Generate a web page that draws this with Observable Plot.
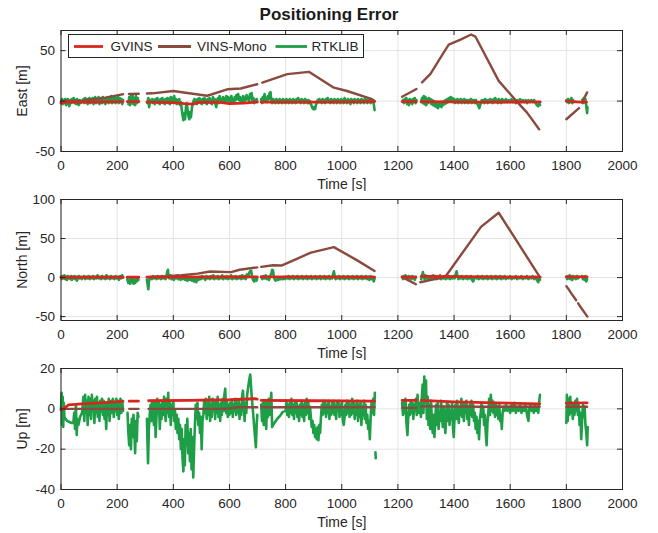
<!DOCTYPE html>
<html>
<head>
<meta charset="utf-8">
<script src="https://cdn.jsdelivr.net/npm/d3@7"></script>
<script src="https://cdn.jsdelivr.net/npm/@observablehq/plot@0.6"></script>
<style>
  html, body { margin: 0; padding: 0; background: #fff; }
  body { width: 658px; height: 533px; position: relative; overflow: hidden; font-family: "Liberation Sans", Arial, sans-serif; }
  #title { position: absolute; left: 0; top: 4px; width: 658px; text-align: center; font-weight: bold; font-size: 17px; line-height: 22px; color: #1a1a1a; }
  .panel { position: absolute; left: 0; }
  #legend { position: absolute; left: 68px; top: 34px; width: 294px; height: 22px; border: 1px solid #262626; background: #fff; }
</style>
</head>
<body>
<div id="title">Positioning Error</div>
<div id="p1" class="panel" style="top:22px"></div>
<div id="p2" class="panel" style="top:191px"></div>
<div id="p3" class="panel" style="top:360px"></div>
<div id="legend"></div>
<script>
// ---------- categories / ticks ----------
const seriesNames = ["GVINS", "VINS-Mono", "RTKLIB"];
const seriesColors = ["#d8261f", "#8b4a3e", "#1e9e47"];
const xTicks = [0, 200, 400, 600, 800, 1000, 1200, 1400, 1600, 1800, 2000];
const eastTicks = [-50, 0, 50];
const northTicks = [-50, 0, 50, 100];
const upTicks = [-40, -20, 0, 20];
const eastDomain = [-50, 70];
const northDomain = [-55, 100];
const upDomain = [-40, 20];

// ---------- East [m] ----------  pairs [time, value]; null = data gap
const eastGVINS = [[0,-2],[20,-1],[100,-1],[221,-0.5],null,[236,-0.5],[277,-0.5],null,[306,-1],[400,-1.5],[440,-2.5],[470,-3],[490,-1.2],[560,-1],[600,-2.5],[650,-2],[699,-1],null,
  [713,-1],[900,-1],[1117,-0.5],null,[1215,-0.5],[1266,-0.5],null,[1283,-0.5],[1500,-1],[1707,-0.8],null,[1800,0],[1849,-1],null,[1856,-1],[1872,-1]];
const eastVINS = [[0,0],[80,0.5],[150,3],[218,6.7],[221,6.8],null,[242,7],[277,7.3],null,[306,7.5],[325,7.7],[400,10],[450,8],[521,5.3],[592,11.7],[640,12.5],[699,16.7],null,
  [717,18.3],[806,26.7],[883,29],[972,13.3],[1019,10],[1102,2.4],[1117,0],null,[1215,4.3],[1266,12],null,
  [1286,18.6],[1316,27],[1364,48.6],[1381,56],[1423,61],[1461,66],[1476,64],[1559,20],[1619,1],[1660,-11.4],[1703,-28],null,
  [1800,-18],[1845,-7],null,[1856,-1.4],[1874,8.6]];
const eastRTKLIB = [[0,-1],[3,2],[6,-3],[9,1],[12,-2],[15,2],[18,-4],[21,0],[24,2],[27,-3],[30,-5],[33,1],[36,-2],[39,2],[42,-1],[45,3],[48,-2],[51,1],[54,-3],[57,2],[60,-1],[63,-4],[66,1],[70,-2],[75,0],
  [80,2],[83,-2],[86,3],[89,-1],[92,2],[95,-3],[98,1],[101,3],[104,-2],[107,2],[110,-1],[113,3],[116,-3],[119,1],[122,4],[125,-2],[128,2],[131,-1],[134,4],[137,-3],[140,1],[143,3],[146,-2],[149,4],
  [152,-1],[155,2],[158,-3],[161,3],[164,-1],[167,4],[170,-2],[173,2],[176,-1],[179,5],[182,-2],[185,3],[188,-1],[191,4],[194,-2],[197,3],[200,-1],[203,4],[206,-2],[209,3],[212,-1],[215,2],[218,-3],[221,1],null,
  [240,-3],[243,4],[246,-4],[249,5],[252,-2],[255,6],[258,-3],[261,3],[264,-4],[267,5],[270,-2],[273,3],[276,-1],null,
  [308,-2],[311,3],[314,-6],[317,1],[320,-1],[325,2],[328,-2],[331,1],[334,-3],[337,2],[340,-1],[343,3],[346,-2],[349,1],[352,-3],[355,2],[358,-1],[361,3],[364,-2],[367,1],[370,-3],[373,2],[376,-1],
  [379,3],[382,-2],[385,2],[388,-3],[391,4],[394,-1],[397,3],[400,-2],[403,5],[406,-1],[409,2],[412,-3],[415,1],[418,-2],[421,2],[424,-4],[427,-1],[430,-8],[433,-14],[436,-19],[439,-12],[442,-18],
  [445,-6],[448,-2],[451,-9],[454,-15],[457,-18],[460,-11],[463,-16],[466,-7],[469,-3],[472,0],[475,2],[478,-2],[481,1],[484,-3],[487,2],[490,-1],[493,3],[496,-2],[499,1],[502,-3],[505,2],[508,-1],
  [511,3],[514,-2],[517,1],[520,-3],[523,2],[526,-1],[529,3],[532,-2],[535,1],[538,-3],[541,4],[544,-1],[547,2],[550,-3],[553,-6],[556,1],[559,3],[562,-2],[565,5],[568,0],[571,2],[574,-1],[577,4],
  [580,0],[583,3],[586,-1],[589,5],[592,1],[595,4],[598,-2],[601,3],[604,-1],[607,5],[610,0],[613,2],[616,-2],[619,4],[622,1],[625,6],[628,2],[631,7],[634,1],[637,4],[640,-1],[643,3],[646,0],[649,5],
  [652,-1],[655,3],[658,1],[661,6],[664,2],[667,4],[670,0],[673,7],[676,3],[679,8],[682,0],[685,3],[688,-2],[691,1],[694,0],[697,2],[699,0],null,
  [713,2],[716,-2],[719,4],[722,-1],[725,7],[728,0],[731,3],[734,-1],[737,5],[740,2],[743,8],[746,9],[749,1],[752,-2],[755,2],[758,-1],[761,1],[764,-2],[767,2],[770,-1],[773,1],[776,-2],[779,2],
  [782,-1],[785,1],[788,-2],[791,2],[794,-1],[797,1],[800,-2],[803,2],[806,-1],[809,1],[812,-2],[815,2],[818,-1],[821,1],[824,-2],[827,2],[830,-1],[833,1],[836,-2],[839,2],[842,-1],[845,3],[848,-1],
  [851,1],[854,-2],[857,2],[860,-1],[863,1],[866,-2],[869,2],[872,-1],[875,1],[878,-2],[881,1],[884,-2],[887,0],[890,-3],[893,-5],[896,-7],[899,-8],[902,-6],[905,-8],[908,-4],[911,-2],[914,1],
  [917,-1],[920,2],[923,-1],[926,1],[929,-2],[932,2],[935,-1],[938,1],[941,-2],[944,2],[947,-1],[950,3],[953,-1],[956,1],[959,-2],[962,2],[965,-1],[968,1],[971,-2],[974,2],[977,-1],[980,1],[983,-2],
  [986,2],[989,-1],[992,1],[995,-2],[998,2],[1001,-1],[1004,1],[1007,-2],[1010,3],[1013,-1],[1016,1],[1019,-2],[1022,2],[1025,-1],[1028,1],[1031,-3],[1034,2],[1037,-1],[1040,1],[1043,-2],[1046,2],
  [1049,-1],[1052,1],[1055,-2],[1058,2],[1061,-1],[1064,1],[1067,-2],[1070,2],[1073,-1],[1076,1],[1079,-2],[1082,2],[1085,-1],[1088,1],[1091,-2],[1094,2],[1097,-1],[1100,1],[1103,-2],[1106,2],
  [1109,-1],[1112,1],[1115,-5],[1117,-9],null,
  [1218,1],[1221,-2],[1224,2],[1227,-1],[1230,3],[1233,-3],[1236,1],[1239,-4],[1242,2],[1245,-2],[1248,1],[1251,-3],[1254,2],[1257,-1],[1260,3],[1263,-2],[1266,1],null,
  [1283,-1],[1286,3],[1289,-2],[1292,5],[1295,-3],[1298,4],[1301,-4],[1304,2],[1307,-2],[1310,3],[1313,-1],[1316,2],[1319,-3],[1322,1],[1325,-4],[1328,0],[1331,-5],[1334,-1],[1337,-6],[1340,-2],
  [1343,-7],[1346,-3],[1349,-5],[1352,-1],[1355,-6],[1358,-2],[1361,-4],[1364,0],[1367,-3],[1370,1],[1373,-2],[1376,2],[1379,-1],[1382,3],[1385,0],[1388,4],[1391,1],[1394,3],[1397,-1],[1400,2],
  [1403,-2],[1406,1],[1409,-1],[1412,2],[1415,-2],[1418,1],[1421,-1],[1424,2],[1427,-2],[1430,1],[1433,-1],[1436,2],[1439,-2],[1442,1],[1445,-1],[1448,1],[1451,-2],[1454,1],[1457,-1],[1460,2],
  [1463,-2],[1466,1],[1469,-1],[1472,1],[1475,-2],[1478,1],[1481,-2],[1484,-3],[1487,-5],[1490,-7],[1493,-4],[1496,-1],[1499,1],[1502,-1],[1505,1],[1508,-2],[1511,2],[1514,-1],[1517,1],[1520,-2],
  [1523,1],[1526,-1],[1529,2],[1532,-1],[1535,1],[1538,-2],[1541,2],[1544,-1],[1547,3],[1550,-1],[1553,1],[1556,-2],[1559,2],[1562,-1],[1565,1],[1568,-2],[1571,2],[1574,-1],[1577,1],[1580,-1],
  [1585,2],[1590,-1],[1595,1],[1600,-1],[1605,2],[1610,-1],[1615,1],[1620,-2],[1625,1],[1630,-1],[1635,2],[1640,-1],[1645,1],[1650,-1],[1655,1],[1660,-2],[1665,1],[1670,-1],[1675,1],[1680,-1],
  [1685,1],[1690,-2],[1695,-4],[1700,-5],[1703,-2],[1706,-4],null,
  [1800,1],[1803,-1],[1806,2],[1809,-2],[1812,1],[1815,-1],[1818,3],[1821,-2],[1824,1],[1827,-1],null,
  [1856,1],[1859,-2],[1862,3],[1865,-1],[1868,2],[1871,-5],[1873,-10],[1874,-12],[1875,-6]];

// ---------- North [m] ----------
const northGVINS = [[0,0.5],[221,0.5],null,[236,0.5],[277,0.5],null,[306,0.5],[699,0.8],null,[713,0.8],[1117,0.5],null,[1215,0.5],[1264,0.5],null,
  [1283,1.5],[1400,1.2],[1500,0.8],[1707,0.5],null,[1800,1],[1849,1],null,[1856,1],[1874,1]];
const northVINS = [[0,0],[100,0.5],[221,0.5],null,[236,0.5],[277,0.5],null,[306,0.5],[381,1.7],[430,3],[486,5],[531,7.7],[606,7],[636,10],[699,13],null,
  [713,13.7],[755,15.8],[785,15.4],[840,24],[890,32],[972,39],[1055,22],[1117,8.5],null,[1215,1],[1240,-4],[1264,-8.5],null,
  [1280,-6],[1320,-3],[1369,1],[1496,65],[1559,83],[1705,1],null,[1800,-11],[1810,-16],[1825,-24],[1835,-29],null,[1842,-33],[1855,-40],[1875,-50]];
const northRTKLIB = [[0,1],[3,-2],[6,2],[9,-1],[12,3],[15,-2],[18,1],[21,-3],[24,2],[27,-1],[30,1],[33,-2],[36,2],[39,-3],[42,1],[45,-1],[48,2],[51,-2],[54,1],[57,-4],[60,0],[63,2],[66,-1],[70,1],
  [74,-2],[78,0],[82,2],[86,-2],[90,1],[94,-1],[98,2],[102,-2],[106,1],[110,-1],[114,2],[118,-2],[122,1],[126,-1],[130,3],[134,-1],[138,1],[142,-2],[146,2],[150,-1],[154,1],[158,-2],[162,3],[166,-1],
  [170,1],[174,-2],[178,2],[182,-1],[186,1],[190,-2],[194,2],[198,-1],[202,1],[206,-3],[210,2],[214,-1],[218,3],[221,0],null,
  [236,-2],[240,-7],[243,-3],[246,-8],[249,-2],[252,-6],[255,-1],[258,-8],[261,-3],[264,-7],[267,-2],[270,-5],[273,-1],[276,-3],null,
  [306,-3],[309,-10],[311,-15],[313,-6],[316,-1],[320,1],[324,-2],[328,2],[332,-1],[336,1],[340,-2],[344,2],[348,-1],[352,1],[356,-2],[360,2],[364,-1],[368,1],[372,-2],[376,3],[379,8],[381,10],
  [383,2],[386,-1],[390,3],[394,-2],[398,1],[402,-3],[406,2],[410,-1],[414,3],[418,-2],[422,1],[426,-3],[430,2],[434,-2],[438,1],[442,-3],[446,0],[450,-4],[454,-1],[458,-3],[462,1],[466,-4],
  [470,-1],[474,-5],[478,-2],[482,-6],[486,-1],[490,-3],[494,1],[498,-2],[502,2],[506,-1],[510,1],[514,-3],[518,2],[522,-1],[526,1],[530,-2],[534,2],[538,-1],[542,3],[546,-2],[550,1],[554,-1],
  [558,2],[562,-2],[566,1],[570,-1],[574,3],[578,-2],[582,1],[586,-1],[590,2],[594,-2],[598,1],[602,-1],[606,3],[610,-2],[614,1],[618,-1],[622,2],[626,-2],[630,1],[634,-1],[638,2],[642,-2],
  [646,3],[650,-1],[654,2],[658,-2],[662,4],[666,1],[670,6],[674,8],[677,9],[680,3],[684,-3],[688,-5],[692,-2],[696,-4],[699,-1],null,
  [713,1],[717,-2],[721,2],[725,-1],[729,3],[733,-2],[737,1],[741,-3],[745,2],[749,5],[752,10],[755,9],[758,2],[761,-2],[764,-4],[767,-3],[770,-2],[774,-3],[778,-1],[782,-2],[786,0],[790,-2],
  [794,1],[798,-2],[802,1],[806,-1],[810,2],[814,-2],[818,1],[822,-1],[826,2],[830,-2],[834,1],[838,-1],[842,2],[846,-2],[850,1],[854,-1],[858,2],[862,-2],[866,1],[870,-1],[874,2],[878,-2],
  [882,1],[886,-1],[890,2],[894,-2],[898,1],[902,-1],[906,2],[910,-2],[914,1],[918,-1],[922,2],[926,-2],[930,1],[934,-1],[938,2],[942,-2],[946,1],[950,-1],[954,2],[958,-2],[962,1],[966,-1],
  [969,4],[972,8],[975,2],[978,-2],[982,1],[986,-1],[990,2],[994,-2],[998,1],[1002,-1],[1006,2],[1010,-2],[1014,1],[1018,-1],[1022,2],[1026,-2],[1030,1],[1034,-1],[1038,2],[1042,-2],[1046,1],
  [1050,-1],[1054,2],[1058,-2],[1062,1],[1066,-1],[1070,2],[1074,-2],[1078,1],[1082,-1],[1086,2],[1090,-2],[1094,1],[1098,-3],[1102,2],[1106,-2],[1110,1],[1114,-5],[1117,-1],null,
  [1215,1],[1218,-2],[1221,2],[1224,-1],[1227,3],[1230,-2],[1233,1],[1236,-3],[1239,2],[1242,-1],[1245,1],[1248,-2],[1251,2],[1254,-1],[1257,1],[1260,-3],[1264,1],null,
  [1283,-2],[1286,3],[1289,7],[1292,2],[1295,-2],[1298,3],[1301,-1],[1304,2],[1307,-2],[1310,1],[1314,-1],[1318,2],[1322,-2],[1326,3],[1330,-1],[1334,2],[1338,-2],[1342,1],[1346,-1],[1350,3],
  [1354,-2],[1358,1],[1362,-1],[1366,2],[1370,-2],[1374,1],[1378,-1],[1382,2],[1386,-2],[1390,1],[1394,-1],[1398,2],[1402,-1],[1406,4],[1409,8],[1412,2],[1416,-2],[1420,1],[1424,-1],[1428,2],
  [1432,-2],[1436,1],[1440,-1],[1444,2],[1448,-2],[1452,1],[1456,-1],[1460,2],[1464,-3],[1468,-5],[1472,-1],[1476,1],[1480,-1],[1484,2],[1488,-2],[1492,1],[1496,-1],[1500,2],[1504,-2],[1508,1],
  [1512,-1],[1516,2],[1520,-2],[1524,1],[1528,-1],[1532,2],[1536,-2],[1540,1],[1544,-1],[1548,2],[1552,-2],[1556,1],[1560,-1],[1564,2],[1568,-2],[1572,1],[1576,-1],[1580,2],[1585,-2],[1590,1],
  [1595,-1],[1600,2],[1605,-2],[1610,1],[1615,-1],[1620,2],[1625,-2],[1630,1],[1635,-1],[1640,2],[1645,-2],[1650,1],[1655,-1],[1660,2],[1665,-2],[1670,1],[1675,-1],[1680,2],[1685,-2],[1690,1],
  [1695,-3],[1700,-6],[1703,-1],[1706,-3],null,
  [1800,1],[1803,-2],[1806,2],[1809,-1],[1812,3],[1815,-2],[1818,1],[1821,-3],[1824,2],[1827,-1],[1830,1],[1834,-2],[1838,2],[1842,-1],[1846,1],null,
  [1856,2],[1859,-2],[1862,1],[1865,-3],[1868,2],[1871,-5],[1874,-2]];

// ---------- Up [m] ----------
const upGVINS = [[0,-0.5],[10,0],[27,2],[74,2.5],[140,3],[217,3.7],[221,3.7],null,[243,3.8],[276,3.8],null,[312,4],[450,4.2],[600,4.5],[690,5],[699,4.8],null,
  [713,4.2],[900,4],[1117,3.8],null,[1215,4.2],[1266,4.2],null,[1283,4.2],[1400,3.5],[1550,3],[1705,2.5],null,[1800,2.8],[1849,3],null,[1856,3],[1874,3]];
const upVINS = [[0,0],[221,0],null,[243,0],[276,0],null,[312,0],[585,0],[630,0.8],[699,0.8],null,[713,0.8],[1117,0.8],null,[1215,0.5],[1266,0.5],null,
  [1283,1.2],[1500,1],[1705,1],null,[1800,1],[1849,1],null,[1856,1],[1874,1]];
const upRTKLIB = [[0,0],[2,8],[4,-8],[6,6],[8,-9],[10,3],[12,-4],[16,-5],[22,-6],[30,-6.5],[38,-7],[44,-7],[47,-2],[50,-10],[53,2],[56,-13],[58,-5],[62,-8],[68,-4],[75,-2],[80,6],[83,-6],[86,7],
  [89,-2],[92,4],[95,-8],[98,6],[101,-3],[104,5],[107,-5],[110,7],[113,-1],[116,4],[119,-7],[122,5],[125,-2],[128,6],[131,-4],[134,3],[137,-6],[140,4],[143,-1],[146,5],[149,-3],[152,4],[155,-5],
  [158,2],[161,-10],[164,3],[167,-3],[170,5],[173,-6],[176,2],[179,4],[182,-2],[185,5],[188,-4],[191,3],[194,-1],[197,5],[200,-3],[203,4],[206,-5],[209,2],[212,5],[215,-2],[218,4],[221,-1],null,
  [237,-2],[240,-12],[243,-18],[246,-8],[249,-20],[252,-5],[255,-14],[258,-3],[261,-10],[264,-22],[267,-6],[270,-16],[273,-2],[276,-4],null,
  [306,-5],[310,-27],[313,-10],[316,-3],[319,2],[322,-6],[325,4],[328,-2],[331,-8],[334,3],[337,-14],[340,-4],[343,5],[346,-2],[349,3],[352,-10],[355,2],[358,-5],[361,4],[364,-3],[367,6],[370,-1],
  [373,-6],[376,5],[379,-2],[382,8],[385,-4],[388,3],[391,-8],[394,2],[397,-3],[400,4],[403,-6],[406,-1],[409,-10],[412,-3],[415,-12],[418,-5],[421,-15],[424,-8],[427,-20],[430,-10],[433,-25],
  [436,-31],[438,-15],[441,-28],[444,-8],[447,-18],[450,-5],[453,-22],[456,-12],[459,-26],[462,-10],[465,-30],[468,-14],[471,-34],[474,-20],[477,-8],[480,2],[483,-5],[486,3],[489,-8],[492,-2],
  [495,-12],[498,-4],[501,-20],[504,-6],[507,-3],[510,4],[513,-2],[516,5],[519,-5],[522,3],[525,-3],[528,6],[531,-6],[534,2],[537,-4],[540,5],[543,-1],[546,3],[549,-5],[552,4],[555,-2],[558,6],
  [561,-4],[564,2],[567,-6],[570,3],[573,-3],[576,5],[579,-1],[582,7],[585,10],[588,-2],[591,4],[594,-4],[597,2],[600,-3],[603,3],[606,-2],[609,4],[612,-4],[615,2],[618,-1],[621,5],[624,-3],
  [627,3],[630,-2],[633,4],[636,-5],[639,2],[642,-3],[645,6],[648,9],[651,2],[654,-6],[657,3],[660,-2],[663,7],[666,10],[670,14],[674,17],[680,5],[686,-5],[690,-12],[694,-19],[697,-8],[699,-3],null,
  [713,2],[716,-6],[719,3],[722,-8],[725,4],[728,-2],[731,-10],[734,3],[737,-4],[740,5],[743,-3],[746,2],[749,8],[752,-9],[760,-7],[770,-5],[780,-3.5],[790,-1.5],[800,-1],[803,4],[806,-3],[809,2],
  [812,-4],[815,3],[818,-2],[821,5],[824,-3],[827,2],[830,-5],[833,3],[836,-2],[839,4],[842,-4],[845,1],[848,-6],[851,2],[854,-3],[857,4],[860,-4],[863,2],[866,-6],[869,3],[872,-3],[875,5],
  [878,-2],[881,3],[884,-5],[887,1],[890,-4],[893,-9],[896,-6],[899,-12],[902,-8],[905,-14],[908,-10],[911,-15],[914,-9],[917,-15.5],[920,-8],[923,-12],[926,-4],[929,2],[932,-3],[935,4],[938,-2],
  [941,3],[944,-4],[947,2],[950,-2],[953,4],[956,-5],[959,1],[962,-3],[965,3],[968,-2],[971,4],[974,-3],[977,2],[980,-5],[983,3],[986,-1],[989,4],[992,-4],[995,2],[998,-3],[1001,3],[1004,-6],
  [1007,-8],[1010,-4],[1013,2],[1016,-3],[1019,4],[1022,-2],[1025,3],[1028,-4],[1031,2],[1034,-3],[1037,5],[1040,-2],[1043,3],[1046,-5],[1049,2],[1052,-3],[1055,4],[1058,-6],[1061,2],[1064,-4],
  [1067,3],[1070,-8],[1073,1],[1076,-3],[1079,4],[1082,-5],[1085,2],[1088,-7],[1091,-3],[1094,-10],[1097,-6],[1100,-15],[1103,-4],[1106,3],[1109,-2],[1112,5],[1115,-3],[1118,8],null,
  [1120,-21.5],[1121,-24.5],null,
  [1215,3],[1218,-3],[1221,4],[1224,-2],[1227,5],[1230,-6],[1234,-13],[1237,-4],[1240,2],[1243,-3],[1246,4],[1249,-2],[1252,3],[1255,-5],[1258,2],[1261,-1],[1264,5],[1267,-3],[1270,7],[1273,-2],
  [1276,3],[1279,0],[1282,-4],[1285,5],[1288,12],[1291,-2],[1294,16],[1297,3],[1300,14],[1303,-5],[1306,6],[1309,-8],[1312,2],[1315,-10],[1318,4],[1321,-6],[1324,-12],[1327,-3],[1330,-14],
  [1333,-5],[1336,2],[1339,-8],[1342,3],[1345,-10],[1348,-2],[1351,-6],[1354,4],[1357,-4],[1360,-9],[1363,1],[1366,-5],[1369,-12],[1372,-3],[1375,3],[1378,-6],[1381,2],[1384,-8],[1387,-1],
  [1390,-5],[1393,3],[1396,-9],[1399,-14],[1402,-3],[1405,2],[1408,-5],[1411,4],[1414,-2],[1417,-7],[1420,1],[1423,-3],[1426,5],[1429,-4],[1432,2],[1435,-6],[1438,3],[1441,-2],[1444,4],[1447,-5],
  [1450,1],[1453,-8],[1456,2],[1459,-3],[1462,4],[1465,-4],[1468,2],[1471,-6],[1474,-2],[1477,-10],[1480,-4],[1483,-12],[1486,-6],[1489,-15],[1492,-5],[1495,-2],[1498,3],[1501,-4],[1504,1],
  [1507,-8],[1510,-3],[1513,-12],[1516,-18],[1519,-7],[1522,-2],[1525,5],[1528,-3],[1531,7],[1534,-1],[1537,4],[1540,-2],[1543,3],[1546,-4],[1549,2],[1552,-3],[1555,1],[1558,-5],[1561,2],
  [1564,-6],[1567,-3],[1570,-10],[1573,-2],[1576,1],[1580,-1],[1585,2],[1590,-1],[1595,1],[1600,-2],[1605,2],[1610,-1],[1615,3],[1620,-2],[1625,1],[1630,-1],[1635,2],[1640,-2],[1645,1],[1650,-1],
  [1655,2],[1660,-3],[1665,-6],[1668,0],[1672,2],[1676,-1],[1680,1],[1684,-2],[1688,2],[1692,-1],[1696,1],[1700,-2],[1703,3],[1706,7],null,
  [1800,-7],[1802,7],[1805,-6],[1808,5],[1811,-3],[1814,6],[1817,-2],[1820,3],[1823,-5],[1826,2],[1829,-3],[1832,4],[1835,-1],[1838,5],[1841,-3],[1844,2],[1847,-8],[1850,-2],[1853,-15],[1856,-6],
  [1859,2],[1862,-4],[1865,1],[1868,-8],[1871,-12],[1874,-18],[1876,-9]];

// ---------- drawing ----------
const rows = arr => arr.map(p => p ? {t: p[0], v: p[1]} : {t: NaN, v: NaN});
const W = 658, H = 169, MT = 8, MB = 40, ML = 60.5, MR = 36;
const PH = H - MT - MB, PW = W - ML - MR;
const ink = "#262626";

function panel(el, yLabel, yDomain, yTicks, gv, vm, rt) {
  const chart = Plot.plot({
    width: W, height: H, marginTop: MT, marginBottom: MB, marginLeft: ML, marginRight: MR,
    style: {fontFamily: "'Liberation Sans', Arial, sans-serif", fontSize: "13.5px", color: ink, background: "#fff", overflow: "visible"},
    x: {domain: [0, 2000], ticks: xTicks, label: null},
    y: {domain: yDomain, ticks: yTicks, label: null},
    marks: [
      Plot.gridX(xTicks, {stroke: "#e3e3e3", strokeOpacity: 1, strokeWidth: 1}),
      Plot.gridY(yTicks, {stroke: "#e3e3e3", strokeOpacity: 1, strokeWidth: 1}),
      Plot.line(rows(rt), {x: "t", y: "v", stroke: seriesColors[2], strokeWidth: 2.6, strokeLinejoin: "round"}),
      Plot.line(rows(vm), {x: "t", y: "v", stroke: seriesColors[1], strokeWidth: 2.4, strokeLinejoin: "round"}),
      Plot.line(rows(gv), {x: "t", y: "v", stroke: seriesColors[0], strokeWidth: 2.8, strokeLinejoin: "round"}),
      Plot.tickX(xTicks, {x: d => d, insetTop: PH - 5, stroke: ink}),
      Plot.tickX(xTicks, {x: d => d, insetBottom: PH - 5, stroke: ink}),
      Plot.tickY(yTicks, {y: d => d, insetRight: PW - 5, stroke: ink}),
      Plot.tickY(yTicks, {y: d => d, insetLeft: PW - 5, stroke: ink}),
      Plot.frame({stroke: ink, strokeWidth: 1}),
      Plot.axisX(xTicks, {tickSize: 0, tickPadding: 9, label: null, fill: ink, tickFormat: d => String(d)}),
      Plot.axisY(yTicks, {tickSize: 0, tickPadding: 6, label: null, fill: ink, tickFormat: d => String(d)}),
      Plot.text(["Time [s]"], {frameAnchor: "bottom", lineAnchor: "middle", textAnchor: "middle", dy: 33, fontSize: 14, fill: ink}),
      Plot.text([yLabel], {frameAnchor: "left", lineAnchor: "middle", textAnchor: "middle", dx: -38, rotate: -90, fontSize: 14, fill: ink})
    ]
  });
  document.getElementById(el).appendChild(chart);
}

panel("p1", "East [m]", eastDomain, eastTicks, eastGVINS, eastVINS, eastRTKLIB);
panel("p2", "North [m]", northDomain, northTicks, northGVINS, northVINS, northRTKLIB);
panel("p3", "Up [m]", upDomain, upTicks, upGVINS, upVINS, upRTKLIB);

// ---------- legend ----------
const legendItems = [
  {name: seriesNames[0], color: seriesColors[0], x1: 5, x2: 34, tx: 41.5},
  {name: seriesNames[1], color: seriesColors[1], x1: 89, x2: 122, tx: 128},
  {name: seriesNames[2], color: seriesColors[2], x1: 206.5, x2: 238, tx: 242.5}
];
const lg = d3.select("#legend").append("svg").attr("width", 294).attr("height", 22).style("display", "block");
lg.selectAll("line").data(legendItems).join("line")
  .attr("x1", d => d.x1).attr("x2", d => d.x2).attr("y1", 11.5).attr("y2", 11.5)
  .attr("stroke", d => d.color).attr("stroke-width", 2.8);
lg.selectAll("text").data(legendItems).join("text")
  .attr("x", d => d.tx).attr("y", 16.3).text(d => d.name)
  .attr("font-family", "'Liberation Sans', Arial, sans-serif").attr("font-size", 13.5).attr("fill", ink);
</script>
</body>
</html>
